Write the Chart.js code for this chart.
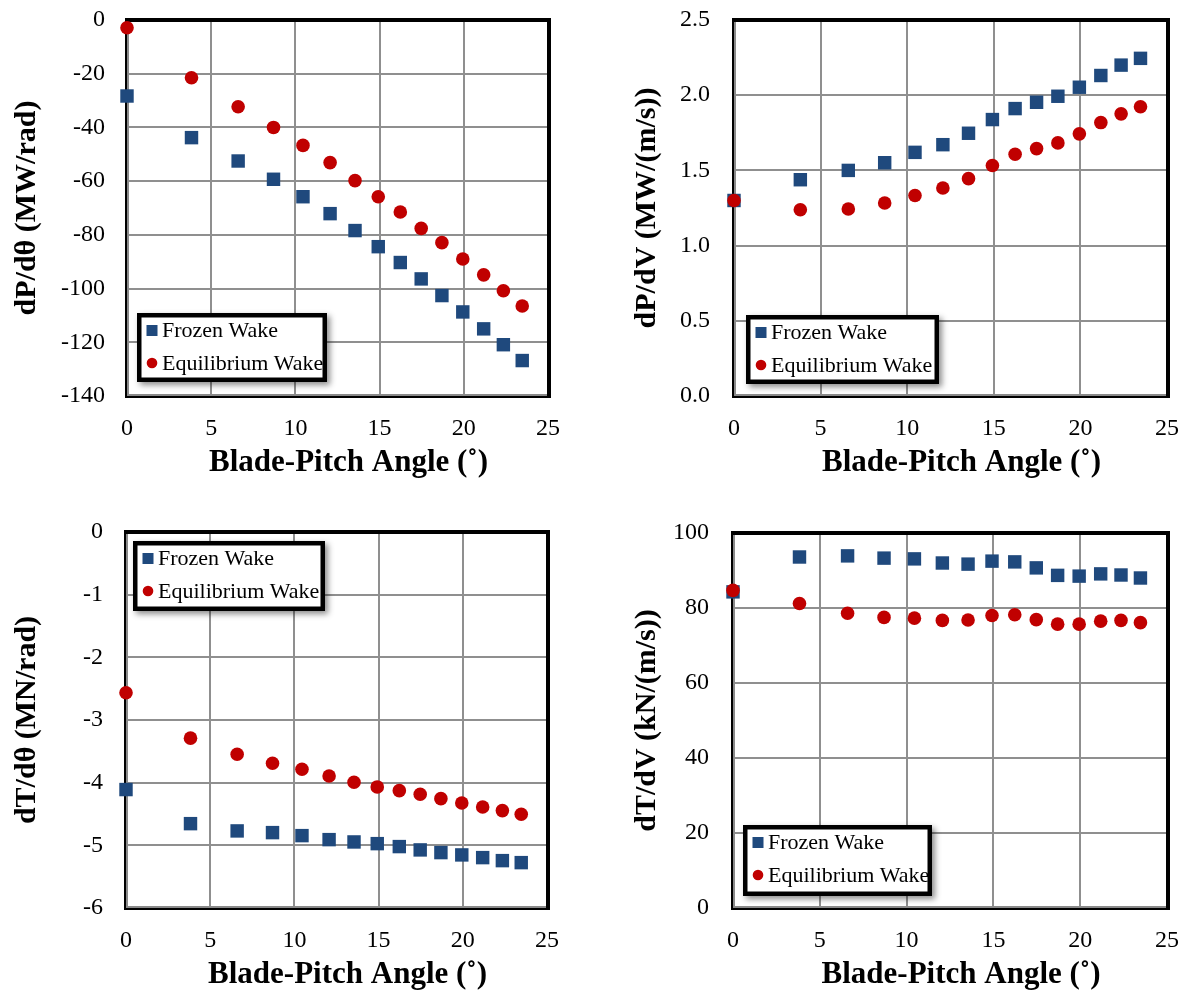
<!DOCTYPE html>
<html><head><meta charset="utf-8">
<script src="https://cdn.jsdelivr.net/npm/chart.js@4/dist/chart.umd.min.js"></script>
<style>
html,body{margin:0;padding:0;background:#fff;}
body{width:1188px;height:994px;position:relative;overflow:hidden;}
canvas{position:absolute;}
</style></head><body>
<canvas id="c1" width="594" height="497" style="left:0;top:0"></canvas>
<canvas id="c2" width="594" height="497" style="left:594px;top:0"></canvas>
<canvas id="c3" width="594" height="497" style="left:0;top:497px"></canvas>
<canvas id="c4" width="594" height="497" style="left:594px;top:497px"></canvas>
<script>
// ---------- data ----------
const pitchAngles = [0, 3.83, 6.60, 8.70, 10.45, 12.06, 13.54, 14.92, 16.23, 17.47, 18.70, 19.94, 21.18, 22.35, 23.47];
const seriesNames = ['Frozen Wake', 'Equilibrium Wake'];

const dPdThetaFrozen = [-28.3, -43.8, -52.5, -59.3, -65.8, -72.1, -78.4, -84.4, -90.3, -96.4, -102.6, -108.7, -115.0, -120.9, -126.8];
const dPdThetaEquil  = [-2.9, -21.5, -32.3, -40.0, -46.7, -53.1, -59.8, -65.8, -71.5, -77.6, -82.9, -89.0, -94.9, -100.8, -106.5];

const dPdVFrozen = [1.30, 1.438, 1.50, 1.551, 1.62, 1.671, 1.747, 1.838, 1.911, 1.953, 1.993, 2.053, 2.131, 2.20, 2.245];
const dPdVEquil  = [1.30, 1.238, 1.243, 1.283, 1.333, 1.383, 1.445, 1.533, 1.607, 1.645, 1.683, 1.743, 1.818, 1.876, 1.923];

const dTdThetaFrozen = [-4.11, -4.654, -4.77, -4.797, -4.845, -4.909, -4.946, -4.973, -5.02, -5.073, -5.116, -5.153, -5.196, -5.244, -5.276];
const dTdThetaEquil  = [-2.565, -3.29, -3.547, -3.69, -3.786, -3.893, -3.994, -4.068, -4.127, -4.185, -4.255, -4.324, -4.388, -4.446, -4.504];

const dTdVFrozen = [84.3, 93.6, 93.9, 93.3, 93.1, 92.0, 91.7, 92.5, 92.3, 90.7, 88.7, 88.5, 89.1, 88.8, 88.0];
const dTdVEquil  = [84.7, 81.2, 78.6, 77.5, 77.3, 76.7, 76.8, 78.0, 78.2, 76.9, 75.7, 75.7, 76.5, 76.7, 76.1];

const xTickValues = [0, 5, 10, 15, 20, 25];
const xTickLabels = ['0', '5', '10', '15', '20', '25'];
const yTicks1 = [-140, -120, -100, -80, -60, -40, -20, 0];
const yLabels1 = ['-140', '-120', '-100', '-80', '-60', '-40', '-20', '0'];
const yTicks2 = [0, 0.5, 1.0, 1.5, 2.0, 2.5];
const yLabels2 = ['0.0', '0.5', '1.0', '1.5', '2.0', '2.5'];
const yTicks3 = [-6, -5, -4, -3, -2, -1, 0];
const yLabels3 = ['-6', '-5', '-4', '-3', '-2', '-1', '0'];
const yTicks4 = [0, 20, 40, 60, 80, 100];
const yLabels4 = ['0', '20', '40', '60', '80', '100'];

const xTitle = 'Blade-Pitch Angle (˚)';
const yTitle1 = 'dP/dθ (MW/rad)';
const yTitle2 = 'dP/dV (MW/(m/s))';
const yTitle3 = 'dT/dθ (MN/rad)';
const yTitle4 = 'dT/dV (kN/(m/s))';

// ---------- styling ----------
const FONT = "'Liberation Serif', 'Times New Roman', serif";
const BLUE = '#1F497D';
const RED = '#C00000';
const GRID = '#8f8f8f';

const framePlugin = {
  id: 'frameLegend',
  beforeDraw(chart, args, opts) {
    const sx = chart.scales.x;
    if (!sx._shiftWrapped) {
      const orig = sx.drawTitle;
      sx.drawTitle = function () {
        this.ctx.save();
        this.ctx.translate(opts.titleShift || 0, 0);
        orig.apply(this, arguments);
        this.ctx.restore();
      };
      sx._shiftWrapped = true;
    }
  },
  beforeDatasetsDraw(chart) {
    const {ctx, chartArea: a} = chart;
    ctx.save();
    ctx.fillStyle = '#8a8a8a';
    ctx.fillRect(a.left, a.top, 2, a.bottom - a.top);
    ctx.fillRect(a.left, a.bottom - 2, a.right - a.left, 2);
    ctx.fillStyle = '#000';
    ctx.fillRect(a.left - 2, a.top - 2, 2, a.bottom - a.top + 4);
    ctx.fillRect(a.left - 2, a.bottom, a.right - a.left + 5, 2);
    ctx.fillRect(a.left - 2, a.top - 2, a.right - a.left + 5, 4);
    ctx.fillRect(a.right - 1, a.top - 2, 4, a.bottom - a.top + 4);
    ctx.restore();
  },
  afterDatasetsDraw(chart, args, opts) {
    const b = opts.box;
    if (!b) return;
    const ctx = chart.ctx;
    ctx.save();
    ctx.shadowColor = 'rgba(0,0,0,0.45)';
    ctx.shadowBlur = 6;
    ctx.shadowOffsetX = 3;
    ctx.shadowOffsetY = 3;
    ctx.fillStyle = '#000';
    ctx.fillRect(b.x, b.y, b.w, b.h);
    ctx.shadowColor = 'transparent';
    ctx.fillStyle = '#fff';
    ctx.fillRect(b.x + 4.5, b.y + 4.5, b.w - 9, b.h - 9);
    const ds = chart.data.datasets;
    const rows = [b.y + 17.5, b.y + 50];
    ctx.font = '22px ' + FONT;
    ctx.textBaseline = 'middle';
    ctx.textAlign = 'left';
    ds.forEach((d, i) => {
      const cy = rows[i];
      const cx = b.x + 15;
      ctx.fillStyle = d.backgroundColor;
      if (d.pointStyle === 'rect') {
        ctx.fillRect(cx - 5.5, cy - 5.5, 11, 11);
      } else {
        ctx.beginPath();
        ctx.arc(cx, cy, 5.3, 0, Math.PI * 2);
        ctx.fill();
      }
      ctx.fillStyle = '#000';
      ctx.fillText(d.label, b.x + 25, cy + 1);
    });
    ctx.restore();
  }
};

function pts(ys) { return pitchAngles.map((x, i) => ({x: x, y: ys[i]})); }

function makeChart(id, frozen, equil, yTicks, yLabels, yTitle, L) {
  new Chart(document.getElementById(id), {
    type: 'scatter',
    data: {
      datasets: [
        {label: seriesNames[0], data: pts(frozen), pointStyle: 'rect', pointRadius: 9.5,
         backgroundColor: BLUE, borderWidth: 0, pointBorderWidth: 0, clip: false, order: 1},
        {label: seriesNames[1], data: pts(equil), pointStyle: 'circle', pointRadius: 6.8,
         backgroundColor: RED, borderWidth: 0, pointBorderWidth: 0, clip: false, order: 0}
      ]
    },
    options: {
      responsive: false,
      animation: false,
      events: [],
      devicePixelRatio: 1,
      layout: {padding: {top: L.top, right: L.right, left: 0, bottom: 0}},
      plugins: {
        legend: {display: false},
        tooltip: {enabled: false},
        frameLegend: {box: L.legend, titleShift: 11}
      },
      scales: {
        x: {
          type: 'linear', min: 0, max: 25,
          afterBuildTicks: s => { s.ticks = xTickValues.map(v => ({value: v})); },
          afterFit: s => { s.height = L.xH; s.paddingLeft = 0; s.paddingRight = 0; },
          ticks: {
            callback: (v, i) => xTickLabels[i],
            color: '#000', font: {family: FONT, size: 24}, padding: 18, maxRotation: 0, autoSkip: false
          },
          grid: {color: GRID, lineWidth: 2, drawTicks: false},
          border: {display: false},
          title: {display: true, text: xTitle, color: '#000',
                  font: {family: FONT, size: 31, weight: 'bold', lineHeight: 1.2},
                  padding: {top: 0, bottom: L.xTitlePad}}
        },
        y: {
          type: 'linear', min: yTicks[0], max: yTicks[yTicks.length - 1],
          afterBuildTicks: s => { s.ticks = yTicks.map(v => ({value: v})); },
          afterFit: s => { s.width = L.yW; s.paddingTop = 0; s.paddingBottom = 0; },
          ticks: {
            callback: (v, i) => yLabels[i],
            color: '#000', font: {family: FONT, size: 24}, padding: L.yTickPad, autoSkip: false
          },
          grid: {color: GRID, lineWidth: 2, drawTicks: false},
          border: {display: false},
          title: {display: true, text: yTitle, color: '#000',
                  font: {family: FONT, size: 30, weight: 'bold', lineHeight: 1.2},
                  padding: {top: L.yTitlePad, bottom: 0}}
        }
      }
    },
    plugins: [framePlugin]
  });
}

makeChart('c1', dPdThetaFrozen, dPdThetaEquil, yTicks1, yLabels1, yTitle1,
  {top: 20, right: 46, yW: 127, xH: 101, yTitlePad: 9, xTitlePad: 15, yTickPad: 22,
   legend: {x: 137, y: 313, w: 190, h: 69}});
makeChart('c2', dPdVFrozen, dPdVEquil, yTicks2, yLabels2, yTitle2,
  {top: 20, right: 21, yW: 140, xH: 101, yTitlePad: 35, xTitlePad: 15, yTickPad: 24,
   legend: {x: 152, y: 315, w: 193, h: 69}});
makeChart('c3', dTdThetaFrozen, dTdThetaEquil, yTicks3, yLabels3, yTitle3,
  {top: 35, right: 47, yW: 126, xH: 86, yTitlePad: 9.5, xTitlePad: 0, yTickPad: 23,
   legend: {x: 133, y: 44, w: 192, h: 70}});
makeChart('c4', dTdVFrozen, dTdVEquil, yTicks4, yLabels4, yTitle4,
  {top: 36, right: 21, yW: 139, xH: 86, yTitlePad: 35.5, xTitlePad: 0, yTickPad: 24,
   legend: {x: 149, y: 328, w: 189, h: 71}});
</script>
</body></html>
